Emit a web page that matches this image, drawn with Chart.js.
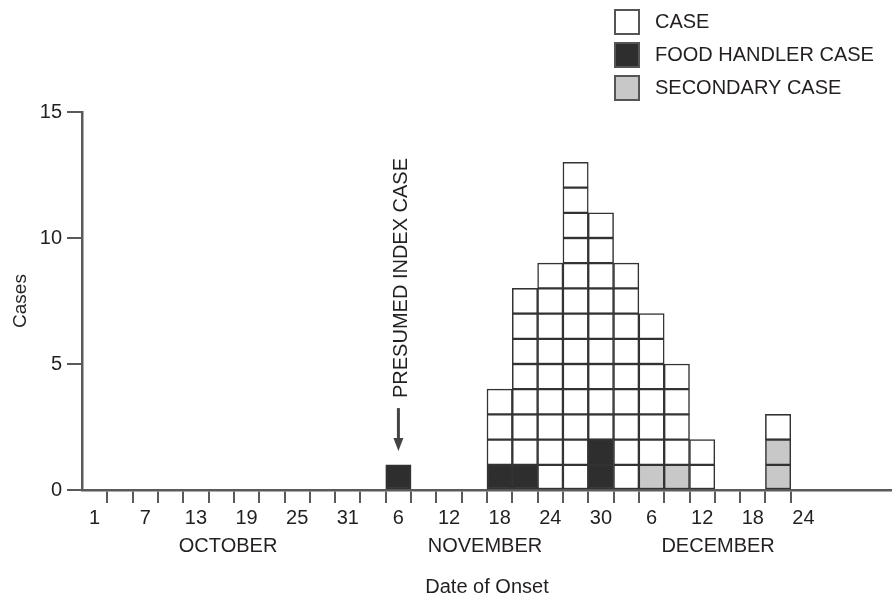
<!DOCTYPE html>
<html>
<head>
<meta charset="utf-8">
<script src="https://cdn.jsdelivr.net/npm/chart.js@4.4.1/dist/chart.umd.min.js"></script>
<style>
html,body{margin:0;padding:0;background:#ffffff;}
canvas{display:block;}
</style>
</head>
<body>
<canvas id="c" width="892" height="599"></canvas>
<script>
// ---- Data (one entry per 3-day column, starting 1 October) ----
const tickLabels = ['1','','7','','13','','19','','25','','31','','6','','12','','18','','24','','30','','6','','12','','18','','24','','',''];
const foodHandlerCases = [0,0,0,0,0,0,0,0,0,0,0,0,1,0,0,0,1,1,0,0,2,0,0,0,0,0,0,0,0,0,0,0];
const secondaryCases   = [0,0,0,0,0,0,0,0,0,0,0,0,0,0,0,0,0,0,0,0,0,0,1,1,0,0,0,2,0,0,0,0];
const otherCases       = [0,0,0,0,0,0,0,0,0,0,0,0,0,0,0,0,3,7,9,13,9,9,6,4,2,0,0,1,0,0,0,0];
const monthLabels = ['OCTOBER','NOVEMBER','DECEMBER'];
const legendLabels = ['CASE','FOOD HANDLER CASE','SECONDARY CASE'];
const yTickValues = [0,5,10,15];

// ---- Styles ----
const FONT = '"Liberation Sans", Arial, Helvetica, sans-serif';
const TEXT = '#231f20';
const AXIS = '#5a5a5a';
const EDGE = '#333333';
const colorCase = '#ffffff';
const colorFood = '#2e2e2e';
const colorSec  = '#c8c8c8';
const legendColors = [colorCase, colorFood, colorSec];

// stack order from bottom: food handler, secondary, other cases
const stacks = tickLabels.map((_, i) => [
  ...Array(foodHandlerCases[i]).fill(colorFood),
  ...Array(secondaryCases[i]).fill(colorSec),
  ...Array(otherCases[i]).fill(colorCase)
]);
const maxHeight = Math.max(...stacks.map(s => s.length));
const datasets = [];
for (let level = 0; level < maxHeight; level++) {
  datasets.push({
    label: 'layer ' + level,
    data: stacks.map(s => (s.length > level ? 1 : null)),
    backgroundColor: stacks.map(s => s[level] || colorCase),
    borderColor: EDGE,
    borderWidth: 1.5,
    borderSkipped: false,
    categoryPercentage: 1,
    barPercentage: 1,
    stack: 'cases'
  });
}
const indexCaseColumn = stacks.findIndex(s => s.length > 0);

const overlay = {
  id: 'overlay',
  afterDraw(chart, args, opts) {
    const ctx = chart.ctx, xs = chart.scales.x, ys = chart.scales.y;
    ctx.save();
    ctx.fillStyle = TEXT;
    // month labels
    ctx.font = '20px ' + FONT;
    ctx.textAlign = 'center';
    ctx.textBaseline = 'middle';
    monthLabels.forEach((m, i) => {
      ctx.fillText(m, xs.getPixelForValue(opts.monthColumns[i]), xs.top + 56);
    });
    // presumed index case arrow + text
    const ax = xs.getPixelForValue(indexCaseColumn);
    const tipY = ys.getPixelForValue(opts.arrowTip);
    const tailY = ys.getPixelForValue(opts.arrowTail);
    ctx.strokeStyle = '#444';
    ctx.lineWidth = 3;
    ctx.beginPath();
    ctx.moveTo(ax, tailY);
    ctx.lineTo(ax, tipY - 10);
    ctx.stroke();
    ctx.fillStyle = '#444';
    ctx.beginPath();
    ctx.moveTo(ax - 5, tipY - 13);
    ctx.lineTo(ax + 5, tipY - 13);
    ctx.lineTo(ax, tipY);
    ctx.closePath();
    ctx.fill();
    ctx.save();
    ctx.translate(ax + 3, ys.getPixelForValue(opts.textStart));
    ctx.rotate(-Math.PI / 2);
    ctx.fillStyle = TEXT;
    ctx.textAlign = 'left';
    ctx.textBaseline = 'middle';
    ctx.font = '20px ' + FONT;
    ctx.fillText('PRESUMED INDEX CASE', 0, 0);
    ctx.restore();
    // legend
    ctx.font = '20px ' + FONT;
    ctx.textAlign = 'left';
    ctx.textBaseline = 'middle';
    legendLabels.forEach((lab, i) => {
      const top = opts.legendTop + i * opts.legendStep;
      ctx.fillStyle = legendColors[i];
      ctx.fillRect(opts.legendX, top, 24, 24);
      ctx.strokeStyle = '#555';
      ctx.lineWidth = 2;
      ctx.strokeRect(opts.legendX, top, 24, 24);
      ctx.fillStyle = TEXT;
      ctx.fillText(lab, opts.legendX + 40, top + 12);
    });
    ctx.restore();
  }
};

new Chart(document.getElementById('c'), {
  type: 'bar',
  data: { labels: tickLabels.map((_, i) => 'c' + i), datasets },
  options: {
    responsive: false,
    animation: false,
    devicePixelRatio: 1,
    layout: { padding: { top: 112, right: 0, left: 0, bottom: 0 } },
    plugins: {
      legend: { display: false },
      tooltip: { enabled: false },
      overlay: {
        monthColumns: [5.27, 15.42, 24.63],
        arrowTip: 1.55, arrowTail: 3.25, textStart: 3.65,
        legendX: 615, legendTop: 10, legendStep: 33
      }
    },
    scales: {
      x: {
        stacked: true,
        offset: true,
        afterFit: s => { s.height = 109; },
        border: { display: true, color: AXIS, width: 2.5 },
        grid: {
          offset: true,
          drawOnChartArea: false,
          drawTicks: true,
          tickLength: 13,
          lineWidth: 2,
          color: c => (c.index >= 1 && c.index <= 28 ? AXIS : 'rgba(0,0,0,0)')
        },
        ticks: {
          autoSkip: false, maxRotation: 0, minRotation: 0, padding: 3,
          color: TEXT, font: { family: FONT, size: 20 },
          callback: (v, i) => tickLabels[i]
        },
        title: {
          display: true, text: 'Date of Onset', color: TEXT,
          font: { family: FONT, size: 20 }, padding: { top: 0, bottom: 0 }
        }
      },
      y: {
        stacked: true,
        min: 0, max: 15,
        afterFit: s => { s.width = 82; },
        afterBuildTicks: s => { s.ticks = yTickValues.map(v => ({ value: v })); },
        border: { display: true, color: AXIS, width: 2.5 },
        grid: { drawOnChartArea: false, drawTicks: true, tickLength: 15, lineWidth: 2, color: AXIS },
        ticks: { padding: 5, color: TEXT, font: { family: FONT, size: 20 } },
        title: {
          display: true, text: 'Cases', color: TEXT,
          font: { family: FONT, size: 19 }, padding: { top: 9, bottom: 0 }
        }
      }
    }
  },
  plugins: [overlay]
});
</script>
</body>
</html>
